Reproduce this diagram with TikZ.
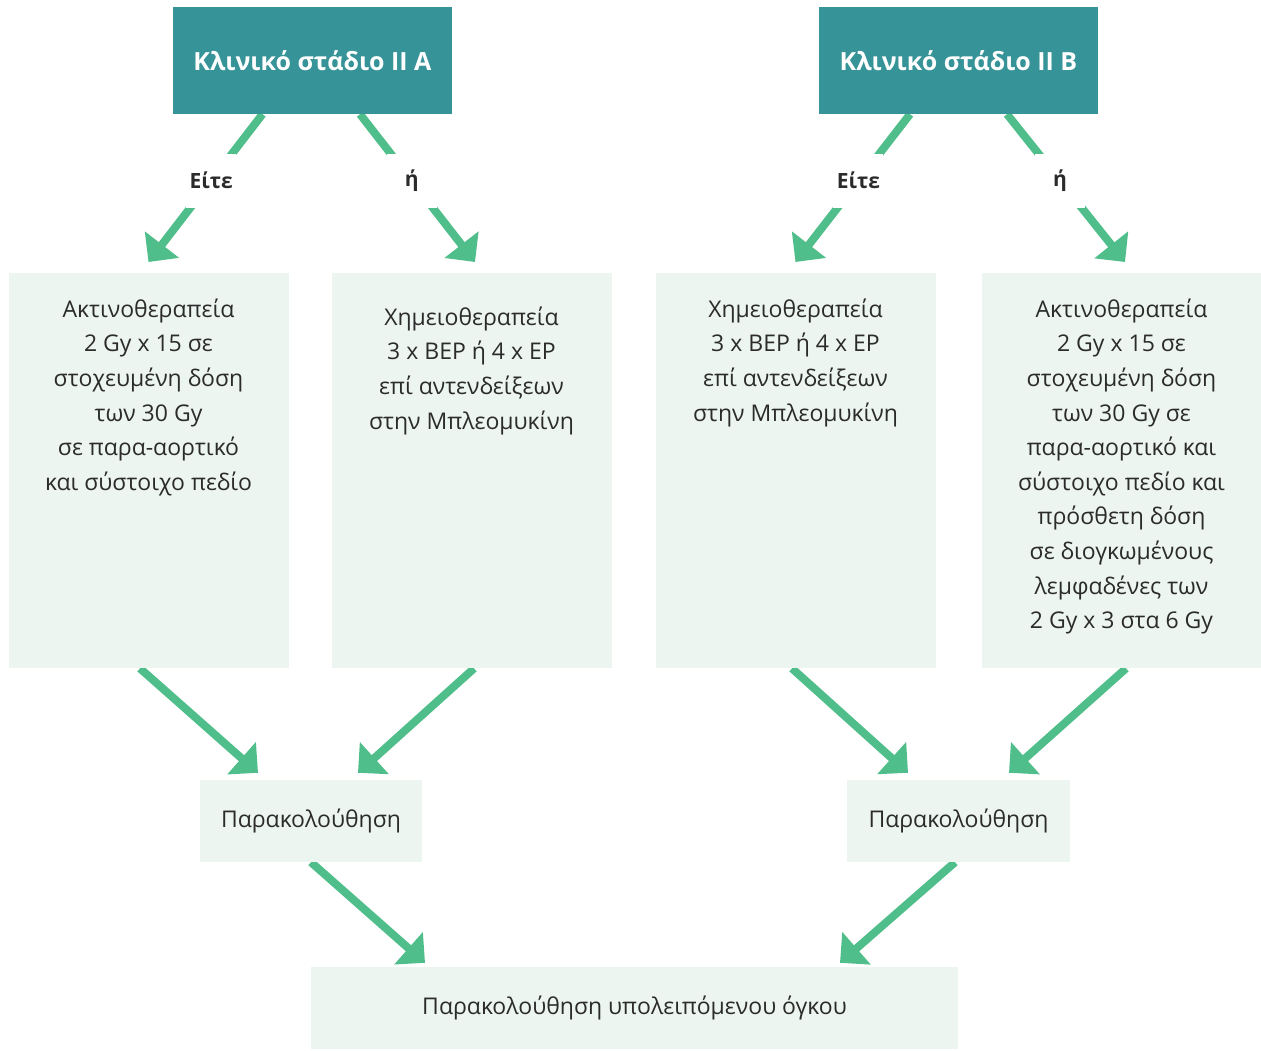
\documentclass[tikz,border=0pt]{standalone}
\usepackage{fontspec}
\setmainfont{Open Sans}
\usetikzlibrary{arrows.meta,backgrounds}

\definecolor{stagecol}{HTML}{369398}
\definecolor{boxcol}{HTML}{ECF5F0}
\definecolor{arrowcol}{HTML}{50BE8A}
\definecolor{textcol}{HTML}{2B2B2B}

\newcommand{\treattext}[2]{\parbox[t][395pt][t]{280pt}{\centering\rule{0pt}{#1}#2}}

\tikzset{
  stage/.style={fill=stagecol, text=white, minimum width=279pt, minimum height=107pt,
    inner sep=0pt, font=\fontsize{25}{30}\selectfont\bfseries},
  treat/.style={fill=boxcol, text=textcol, anchor=north, inner sep=0pt,
    font=\fontsize{23}{34.6}\selectfont},
  follow/.style={fill=boxcol, text=textcol, minimum height=82pt, inner sep=0pt,
    font=\fontsize{23}{28}\selectfont},
  flow/.style={draw=arrowcol, line width=8pt, -{Triangle[length=22pt,width=42pt]}},
  choice/.style={fill=white, text=textcol, minimum width=50pt, minimum height=54pt,
    inner sep=0pt, font=\fontsize{21}{25}\selectfont\bfseries},
}

\begin{document}
\begin{tikzpicture}[x=1pt, y=-1pt]

\useasboundingbox (0,0) rectangle (1261,1050);

% stages
\node[stage] (stageA) at (312.5,60.5) {Κλινικό στάδιο II A};
\node[stage] (stageB) at (958.5,60.5) {Κλινικό στάδιο II B};

% treatments
\node[treat] (treat1) at (148.5,273) {\treattext{44pt}{Ακτινοθεραπεία\\
  2 Gy x 15 σε\\ στοχευμένη δόση\\ των 30 Gy\\ σε παρα-αορτικό\\ και σύστοιχο πεδίο}};
\node[treat] (treat2) at (471.5,273) {\treattext{52pt}{Χημειοθεραπεία\\
  3 x BEP ή 4 x EP\\ επί αντενδείξεων\\ στην Μπλεομυκίνη}};
\node[treat] (treat3) at (795.5,273) {\treattext{44pt}{Χημειοθεραπεία\\
  3 x BEP ή 4 x EP\\ επί αντενδείξεων\\ στην Μπλεομυκίνη}};
\node[treat] (treat4) at (1121.5,273) {\treattext{44pt}{Ακτινοθεραπεία\\
  2 Gy x 15 σε\\ στοχευμένη δόση\\ των 30 Gy σε\\ παρα-αορτικό και\\
  σύστοιχο πεδίο και\\ πρόσθετη δόση\\ σε διογκωμένους\\ λεμφαδένες των\\
  2 Gy x 3 στα 6 Gy}};

% follow-up
\node[follow, minimum width=222pt] (followA) at (311,821) {Παρακολούθηση};
\node[follow, minimum width=223pt] (followB) at (958.5,821) {Παρακολούθηση};
\node[follow, minimum width=647pt] (rest) at (634.5,1008) {Παρακολούθηση υπολειπόμενου όγκου};

\begin{scope}[on background layer]
\draw[flow] ([xshift=-50pt]stageA.south) -- node[choice, pos=0.45] (eitherA) {Είτε}
  ([yshift=11pt]treat1.north);
\draw[flow] ([xshift=47.5pt]stageA.south) -- node[choice, pos=0.45] (orA) {ή}
  ([xshift=3.5pt,yshift=11pt]treat2.north);
\draw[flow] ([xshift=-48.5pt]stageB.south) -- node[choice, pos=0.45] (eitherB) {Είτε}
  ([yshift=11pt]treat3.north);
\draw[flow] ([xshift=48.5pt]stageB.south) -- node[choice, pos=0.45] (orB) {ή}
  ([xshift=3.5pt,yshift=11pt]treat4.north);

\draw[flow] ([xshift=-8.5pt]treat1.south) -- ([xshift=-53pt,yshift=7pt]followA.north);
\draw[flow] ([xshift=2.5pt]treat2.south) -- ([xshift=47pt,yshift=7pt]followA.north);
\draw[flow] ([xshift=-3.5pt]treat3.south) -- ([xshift=-50.5pt,yshift=7pt]followB.north);
\draw[flow] ([xshift=4.5pt]treat4.south) -- ([xshift=50.5pt,yshift=7pt]followB.north);

\draw[flow] (followA.south) -- ([xshift=-209.5pt,yshift=4pt]rest.north);
\draw[flow] ([xshift=-3.5pt]followB.south) -- ([xshift=205.5pt,yshift=4pt]rest.north);
\end{scope}

\end{tikzpicture}
\end{document}
